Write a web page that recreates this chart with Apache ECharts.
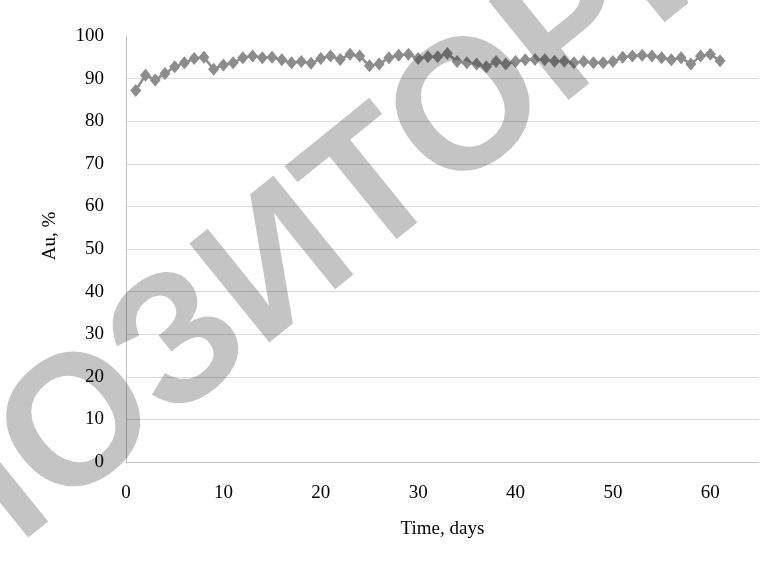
<!DOCTYPE html>
<html>
<head>
<meta charset="utf-8">
<script src="https://cdn.jsdelivr.net/npm/echarts@6/dist/echarts.min.js"></script>
<style>html,body{margin:0;padding:0;background:#fff;}#c{width:784px;height:561px;}</style>
</head>
<body>
<div id="c"></div>
<script>
var days = [1,2,3,4,5,6,7,8,9,10,11,12,13,14,15,16,17,18,19,20,21,22,23,24,25,26,27,28,29,30,31,32,33,34,35,36,37,38,39,40,41,42,43,44,45,46,47,48,49,50,51,52,53,54,55,56,57,58,59,60,61];
var au = [87.2,90.8,89.7,91.2,92.8,93.7,94.7,95.0,92.2,93.2,93.7,94.9,95.3,94.9,95.0,94.4,93.7,94.0,93.6,94.7,95.3,94.5,95.7,95.3,93.0,93.4,94.9,95.5,95.7,94.7,95.1,95.1,95.9,94.0,93.7,93.4,92.8,94.0,93.4,94.0,94.4,94.5,94.4,94.1,94.1,93.7,94.0,93.7,93.7,94.0,95.0,95.3,95.5,95.3,94.9,94.4,94.9,93.4,95.3,95.7,94.2];
var xTitle = 'Time, days';
var yTitle = 'Au, %';
var watermark = 'РЕПОЗИТОРИЙ';

var pts = days.map(function(d,i){return [d, au[i]];});
var serif = '"Liberation Serif", "Times New Roman", serif';
var chart = echarts.init(document.getElementById('c'));
chart.setOption({
  animation: false,
  backgroundColor: '#fff',
  grid: {left: 126, right: 25, top: 36, bottom: 99, containLabel: false},
  xAxis: {
    type: 'value', min: 0, max: 65, interval: 10,
    name: xTitle, nameLocation: 'middle', nameGap: 58,
    nameTextStyle: {fontFamily: serif, fontSize: 19, color: '#000'},
    axisLine: {show: true, lineStyle: {color: '#bfbfbf', width: 1}},
    axisTick: {show: false},
    axisLabel: {fontFamily: serif, fontSize: 19, color: '#000', margin: 22, showMaxLabel: false},
    splitLine: {show: false}
  },
  yAxis: {
    type: 'value', min: 0, max: 100, interval: 10,
    name: yTitle, nameLocation: 'middle', nameGap: 66, nameRotate: 90,
    nameTextStyle: {fontFamily: serif, fontSize: 19, color: '#000', padding: [0,0,0,26]},
    axisLine: {show: true, lineStyle: {color: '#bfbfbf', width: 1}},
    axisTick: {show: false},
    axisLabel: {fontFamily: serif, fontSize: 19, color: '#000', margin: 22},
    splitLine: {show: true, showMaxLine: false, lineStyle: {color: '#d9d9d9', width: 1}}
  },
  series: [{
    type: 'line', data: pts,
    symbol: 'diamond', symbolSize: [11, 13],
    itemStyle: {color: '#8c8c8c'},
    lineStyle: {color: '#8c8c8c', width: 2.5}
  }],
  graphic: [{
    type: 'text', x: 280, y: 268, rotation: 39 * Math.PI / 180, z: 100,
    silent: true,
    style: {
      text: watermark, fontFamily: '"Liberation Sans", Arial, sans-serif', fontWeight: 'bold',
      fontSize: 185, fill: 'rgba(0,0,0,0.23)', align: 'center', verticalAlign: 'middle'
    }
  }]
});
</script>
</body>
</html>
